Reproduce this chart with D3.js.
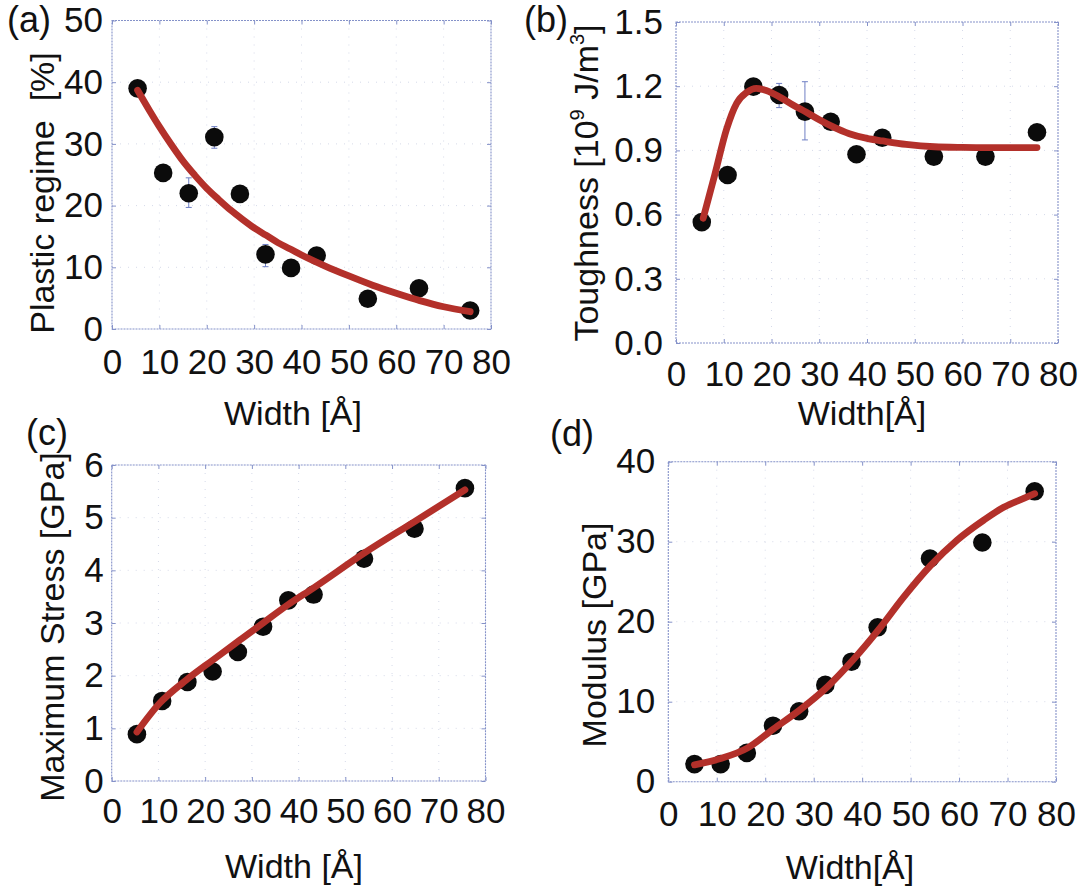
<!DOCTYPE html>
<html><head><meta charset="utf-8">
<script src="https://cdn.jsdelivr.net/npm/d3@7"></script>
<style>
body{margin:0;background:#fff;}
svg text{font-family:"Liberation Sans",Arial,Helvetica,sans-serif;fill:#111;}
</style></head><body>
<svg id="chart" width="1081" height="890"></svg>
<script>
// ---------- data ----------
const widths = [5.4, 10.8, 16.2, 21.6, 27.0, 32.4, 37.8, 43.2, 54.0, 64.8, 75.6];
const plasticRegime = [39.0, 25.3, 22.0, 31.1, 21.9, 12.1, 9.9, 11.9, 4.9, 6.6, 3.0];
const plasticErrLow  = [null, null, 19.7, 29.3, null, 10.1, null, null, null, null, null];
const plasticErrHigh = [null, null, 24.5, 32.8, null, 13.7, null, null, null, null, null];
const toughness = [0.565, 0.785, 1.198, 1.159, 1.081, 1.034, 0.882, 0.959, 0.871, 0.871, 0.985];
const toughErrLow  = [null, null, null, 1.10, 0.949, null, null, null, null, null, null];
const toughErrHigh = [null, null, null, 1.213, 1.221, null, null, null, null, null, null];
const maxStress = [0.89, 1.52, 1.88, 2.08, 2.45, 2.93, 3.43, 3.54, 4.22, 4.79, 5.56];
const modulus = [2.2, 2.2, 3.6, 7.0, 8.8, 12.1, 15.0, 19.3, 27.9, 29.9, 36.3];

// fitted curves
const fitPlasticW = [5.4, 8, 10, 12.5, 15, 17.5, 20, 22.5, 25, 27.5, 30, 32.5, 35, 37.5, 40, 45, 50, 55, 60, 65, 70, 75.6];
const fitPlasticV = [38.7, 35.3, 32.8, 29.9, 27.2, 24.9, 22.8, 21.0, 19.3, 17.8, 16.4, 15.2, 14.0, 13.0, 12.0, 10.2, 8.6, 7.1, 5.8, 4.6, 3.6, 2.8];
const fitToughW = [5.7, 8.1, 10.6, 12.7, 14.8, 16.8, 18.9, 21.7, 24.5, 27.3, 30.1, 32.8, 36.3, 40, 43.3, 48.2, 54.1, 60, 64.9, 70, 75.6];
const fitToughV = [0.583, 0.785, 1.0, 1.12, 1.171, 1.19, 1.18, 1.15, 1.112, 1.078, 1.042, 1.011, 0.978, 0.956, 0.944, 0.928, 0.917, 0.914, 0.913, 0.913, 0.913];
const fitStressW = [5.4, 10.3, 16.0, 21.7, 27.5, 32.4, 37.8, 43.1, 54.1, 64.9, 75.6];
const fitStressV = [0.93, 1.48, 1.92, 2.30, 2.68, 3.00, 3.35, 3.66, 4.33, 4.93, 5.53];
const fitModulusW = [5.4, 10.8, 16.3, 21.7, 27.2, 32.9, 38.1, 43.4, 48.6, 54.1, 59.6, 65.1, 69.2, 73.7, 75.6];
const fitModulusV = [2.1, 2.9, 4.2, 6.6, 9.0, 11.9, 15.2, 19.0, 23.1, 27.0, 30.2, 32.7, 34.3, 35.5, 36.0];

// tick values
const xTicks = [0, 10, 20, 30, 40, 50, 60, 70, 80];
const plasticTicks = [0, 10, 20, 30, 40, 50];
const toughTicks = [0, 0.3, 0.6, 0.9, 1.2, 1.5];
const stressTicks = [0, 1, 2, 3, 4, 5, 6];
const modulusTicks = [0, 10, 20, 30, 40];

// ---------- drawing ----------
const svg = d3.select('#chart');
const FONT = '"Liberation Sans",Arial,Helvetica,sans-serif';
const FS_TICK = 35;
const FS_TITLE = 34;
const frameColor = '#8592c9';
const curveColor = '#b3302a';

function drawPanel(cfg) {
  const g = svg.append('g');
  const x = d3.scaleLinear().domain([0, 80]).range([cfg.left, cfg.right]);
  const y = d3.scaleLinear().domain([0, cfg.yTicks[cfg.yTicks.length - 1]]).range([cfg.bottom, cfg.top]);

  // faint dotted grid
  g.append('g').selectAll('line').data(xTicks.slice(1, -1)).join('line')
    .attr('x1', d => x(d)).attr('x2', d => x(d)).attr('y1', cfg.top).attr('y2', cfg.bottom)
    .attr('stroke', '#d6dae9').attr('stroke-width', 1).attr('stroke-dasharray', '1,7');
  g.append('g').selectAll('line').data(cfg.yTicks.slice(1, -1)).join('line')
    .attr('y1', d => y(d)).attr('y2', d => y(d)).attr('x1', cfg.left).attr('x2', cfg.right)
    .attr('stroke', '#d6dae9').attr('stroke-width', 1).attr('stroke-dasharray', '1,7');

  // frame
  g.append('rect').attr('x', cfg.left).attr('y', cfg.top)
    .attr('width', cfg.right - cfg.left).attr('height', cfg.bottom - cfg.top)
    .attr('fill', 'none').attr('stroke', frameColor).attr('stroke-width', 1.1)
    .attr('stroke-dasharray', '2,1');

  // inward frame ticks
  const tickStyle = sel => { sel.select('.domain').remove(); sel.selectAll('line').attr('stroke', frameColor); sel.selectAll('text').remove(); };
  g.append('g').attr('transform', `translate(0,${cfg.bottom})`).call(d3.axisBottom(x).tickValues(xTicks).tickSize(-4)).call(tickStyle);
  g.append('g').attr('transform', `translate(0,${cfg.top})`).call(d3.axisTop(x).tickValues(xTicks).tickSize(-4)).call(tickStyle);
  g.append('g').attr('transform', `translate(${cfg.left},0)`).call(d3.axisLeft(y).tickValues(cfg.yTicks).tickSize(-4)).call(tickStyle);
  g.append('g').attr('transform', `translate(${cfg.right},0)`).call(d3.axisRight(y).tickValues(cfg.yTicks).tickSize(-4)).call(tickStyle);

  // tick labels
  const lab = sel => { sel.select('.domain').remove(); sel.selectAll('line').remove();
    sel.attr('font-size', FS_TICK).attr('font-family', FONT); sel.selectAll('text').attr('fill', '#111'); };
  g.append('g').attr('transform', `translate(0,${cfg.bottom})`)
    .call(d3.axisBottom(x).tickValues(xTicks).tickSize(0).tickPadding(cfg.xPad).tickFormat(d3.format('d'))).call(lab);
  g.append('g').attr('transform', `translate(${cfg.left},0)`)
    .call(d3.axisLeft(y).tickValues(cfg.yTicks).tickSize(0).tickPadding(cfg.yPad).tickFormat(cfg.yFmt)).call(lab);

  // error bars
  if (cfg.errLow) {
    const eb = g.append('g').attr('stroke', '#6f7fc4').attr('stroke-width', 1);
    widths.forEach((w, i) => {
      if (cfg.errLow[i] == null) return;
      eb.append('line').attr('x1', x(w)).attr('x2', x(w)).attr('y1', y(cfg.errLow[i])).attr('y2', y(cfg.errHigh[i]));
      eb.append('line').attr('x1', x(w) - 3).attr('x2', x(w) + 3).attr('y1', y(cfg.errLow[i])).attr('y2', y(cfg.errLow[i]));
      eb.append('line').attr('x1', x(w) - 3).attr('x2', x(w) + 3).attr('y1', y(cfg.errHigh[i])).attr('y2', y(cfg.errHigh[i]));
    });
  }

  // data points
  g.append('g').selectAll('circle').data(widths.map((w, i) => [w, cfg.values[i]])).join('circle')
    .attr('cx', d => x(d[0])).attr('cy', d => y(d[1])).attr('r', 9.3).attr('fill', '#0b0b0b');

  // fit curve
  const line = d3.line().x(d => x(d[0])).y(d => y(d[1])).curve(d3.curveMonotoneX);
  g.append('path').datum(cfg.fitW.map((w, i) => [w, cfg.fitV[i]]))
    .attr('d', line).attr('fill', 'none').attr('stroke', curveColor)
    .attr('stroke-width', 6.8).attr('stroke-linecap', 'round').attr('stroke-linejoin', 'round');

  // panel label
  svg.append('text').attr('x', cfg.labX).attr('y', cfg.labY).attr('font-size', 36).text(cfg.label);

  // x title
  svg.append('text').attr('x', cfg.xtX).attr('y', cfg.xtY).attr('font-size', FS_TITLE)
    .attr('text-anchor', 'middle').text(cfg.xTitle);

  // y title
  const yt = svg.append('text').attr('transform', `translate(${cfg.ytX},${cfg.ytY}) rotate(-90)`)
    .attr('font-size', FS_TITLE).attr('text-anchor', 'middle');
  cfg.yTitle.forEach(p => {
    const t = yt.append('tspan').text(p.t);
    if (p.sup) t.attr('font-size', 20).attr('dy', -14);
    if (p.after) t.attr('dy', 14);
  });
}

const fmtInt = d3.format('d');
const fmt1 = d3.format('.1f');

drawPanel({ left: 112, right: 491, top: 20.5, bottom: 329, yTicks: plasticTicks, yFmt: fmtInt,
  values: plasticRegime, errLow: plasticErrLow, errHigh: plasticErrHigh,
  fitW: fitPlasticW, fitV: fitPlasticV, xPad: 20, yPad: 9,
  label: '(a)', labX: 7, labY: 32, xTitle: 'Width [Å]', xtX: 293, xtY: 425,
  ytX: 54, ytY: 193, yTitle: [{ t: 'Plastic regime\u00a0 [%]' }] });

drawPanel({ left: 676, right: 1058, top: 22, bottom: 343, yTicks: toughTicks, yFmt: fmt1,
  values: toughness, errLow: toughErrLow, errHigh: toughErrHigh,
  fitW: fitToughW, fitV: fitToughV, xPad: 18, yPad: 13,
  label: '(b)', labX: 524, labY: 32, xTitle: 'Width[Å]', xtX: 862, xtY: 425,
  ytX: 598, ytY: 183, yTitle: [{ t: 'Toughness [10' }, { t: '9', sup: true }, { t: ' J/m', after: true }, { t: '3', sup: true }, { t: ']', after: true }] });

drawPanel({ left: 111.7, right: 485.5, top: 465, bottom: 781, yTicks: stressTicks, yFmt: fmtInt,
  values: maxStress, fitW: fitStressW, fitV: fitStressV, xPad: 17, yPad: 8,
  label: '(c)', labX: 26, labY: 445, xTitle: 'Width [Å]', xtX: 294, xtY: 878,
  ytX: 64, ytY: 627, yTitle: [{ t: 'Maximum Stress [GPa]' }] });

drawPanel({ left: 668.3, right: 1056, top: 461.7, bottom: 781.7, yTicks: modulusTicks, yFmt: fmtInt,
  values: modulus, fitW: fitModulusW, fitV: fitModulusV, xPad: 19, yPad: 13,
  label: '(d)', labX: 550, labY: 446, xTitle: 'Width[Å]', xtX: 850, xtY: 879,
  ytX: 606, ytY: 635, yTitle: [{ t: 'Modulus [GPa]' }] });
</script>
</body></html>
